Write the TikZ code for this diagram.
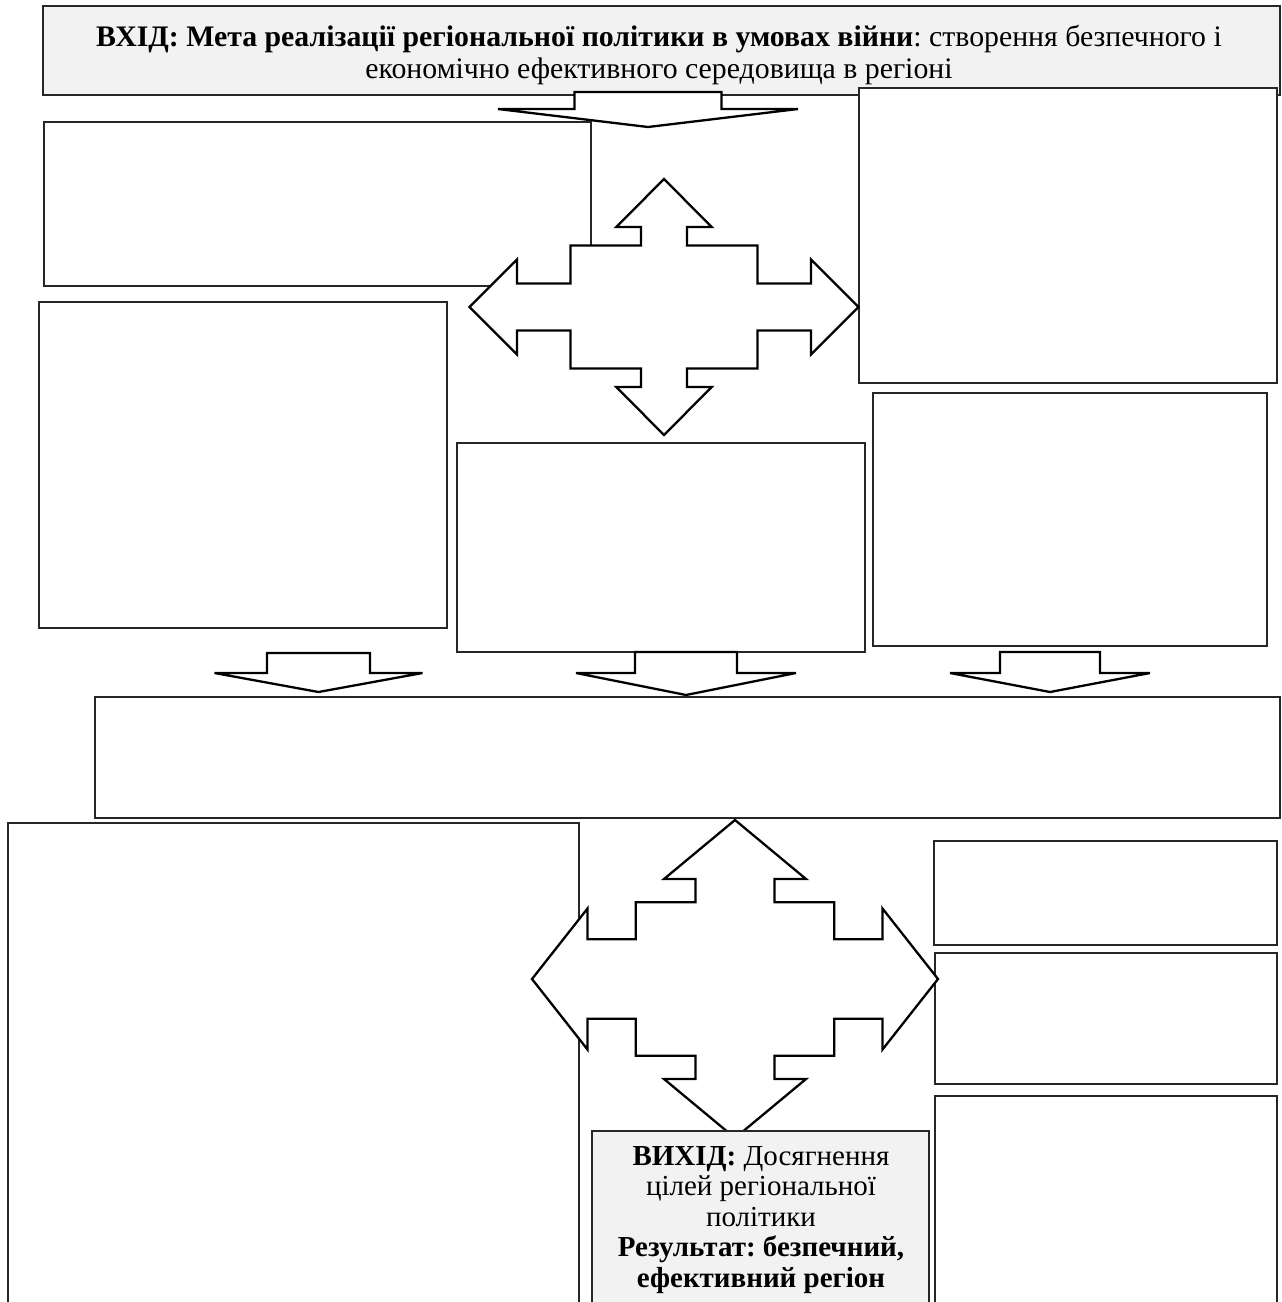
\documentclass[tikz,border=0pt]{standalone}
\usepackage{fontspec}
\setmainfont{Liberation Serif}
\usepackage{xcolor}
\definecolor{headgray}{HTML}{F2F2F2}
\frenchspacing

\tikzset{
  emptybox/.style={draw=black!85, line width=1.2pt, fill=white},
  graybox/.style={draw=black!85, line width=1.5pt, fill=headgray},
  blockarrow/.style={draw=black, line width=2.3pt, fill=white, line join=miter},
  boxtext/.style={align=center, inner sep=0pt}
}

% block arrow pointing down: {cx}{ytop}{shaft half}{yshoulder}{head half}{ytip}
\newcommand{\blockdown}[6]{%
  \draw[blockarrow] (#1-#3,#2) -- (#1+#3,#2) -- (#1+#3,#4) -- (#1+#5,#4)
    -- (#1,#6) -- (#1-#5,#4) -- (#1-#3,#4) -- cycle;}

\begin{document}
\begin{tikzpicture}[x=1pt, y=-1pt]
                \useasboundingbox (0,0) rectangle (1282,1302);

                %% input
                \draw[graybox] (43,6) rectangle (1280,95);
                \node[boxtext, font=\fontsize{29.8}{32}\selectfont] (inhead) at (659,55.5)
                  {\textbf{ВХІД: Мета реалізації регіональної політики в умовах війни}: створення безпечного і\\
                   економічно ефективного середовища в регіоні};
                \blockdown{648}{92}{73.5}{109}{150}{127}

                %% upper blocks
                \draw[emptybox] (859,88) rectangle (1277,383);
                \draw[emptybox] (44,122) rectangle (591,286);

                %% upper cross arrow
                \coordinate (upcross) at (664,307);
                \draw[blockarrow, shift={(upcross)}]
                  (0,-128) -- (47.7,-80) -- (23,-80) -- (23,-61.5) -- (93.5,-61.5)
                  -- (93.5,-23.5) -- (147,-23.5) -- (147,-47.5) -- (194.5,0)
                  -- (147,47.5) -- (147,23.5) -- (93.5,23.5) -- (93.5,61.5)
                  -- (23,61.5) -- (23,80) -- (47.7,80) -- (0,128)
                  -- (-47.7,80) -- (-23,80) -- (-23,61.5) -- (-93.5,61.5)
                  -- (-93.5,23.5) -- (-147,23.5) -- (-147,47.5) -- (-194.5,0)
                  -- (-147,-47.5) -- (-147,-23.5) -- (-93.5,-23.5) -- (-93.5,-61.5)
                  -- (-23,-61.5) -- (-23,-80) -- (-47.7,-80) -- cycle;

                %% middle blocks
                \draw[emptybox] (39,302) rectangle (447,628);
                \draw[emptybox] (457,443) rectangle (865,652);
                \draw[emptybox] (873,393) rectangle (1267,646);

                \blockdown{318.5}{653}{51.5}{673}{104}{692}
                \blockdown{686}{652}{51}{673}{110}{695}
                \blockdown{1050}{652}{50}{673}{100}{692}

                %% wide block
                \draw[emptybox] (95,697) rectangle (1280,818);

                %% lower blocks
                \draw[emptybox] (8,823) rectangle (579,1310);
                \draw[emptybox] (934,841) rectangle (1277,945);
                \draw[emptybox] (935,953) rectangle (1277,1084);
                \draw[emptybox] (935,1096) rectangle (1277,1310);

                %% lower cross arrow
                \coordinate (lowcross) at (735,979);
                \draw[blockarrow, shift={(lowcross)}]
                  (0,-159) -- (71,-100) -- (39.5,-100) -- (39.5,-76.7) -- (99.3,-76.7)
                  -- (99.3,-39.7) -- (147.5,-39.7) -- (147.5,-70.5) -- (203,0)
                  -- (147.5,70.5) -- (147.5,39.7) -- (99.3,39.7) -- (99.3,76.7)
                  -- (39.5,76.7) -- (39.5,100) -- (71,100) -- (0,159)
                  -- (-71,100) -- (-39.5,100) -- (-39.5,76.7) -- (-99.3,76.7)
                  -- (-99.3,39.7) -- (-147.5,39.7) -- (-147.5,70.5) -- (-203,0)
                  -- (-147.5,-70.5) -- (-147.5,-39.7) -- (-99.3,-39.7) -- (-99.3,-76.7)
                  -- (-39.5,-76.7) -- (-39.5,-100) -- (-71,-100) -- cycle;

                %% output
                \draw[graybox] (592,1131) rectangle (929,1310);
                \node[boxtext, font=\fontsize{29}{30.5}\selectfont] (outhead) at (761,1220)
                  {\textbf{ВИХІД:} Досягнення\\
                   цілей регіональної\\
                   політики\\
                   \textbf{Результат: безпечний,}\\
                   \textbf{ефективний регіон}};

\end{tikzpicture}
\end{document}
